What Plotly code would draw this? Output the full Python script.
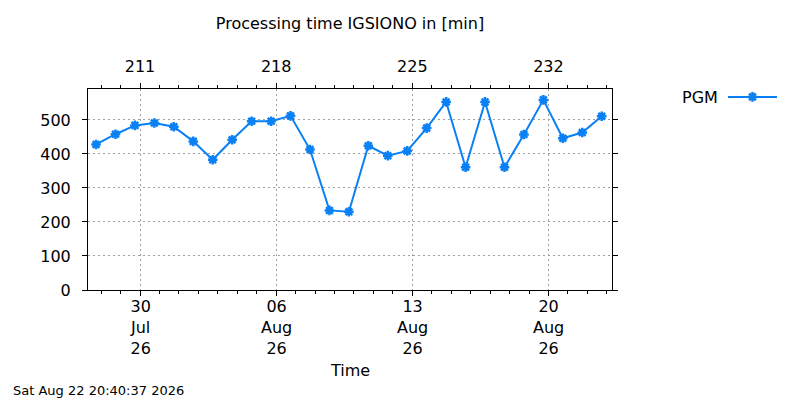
import plotly.graph_objects as go

# ---- data ----
dates = [
    "2026-07-27 17:45", "2026-07-28 17:45", "2026-07-29 17:45", "2026-07-30 17:45",
    "2026-07-31 17:45", "2026-08-01 17:45", "2026-08-02 17:45", "2026-08-03 17:45",
    "2026-08-04 17:45", "2026-08-05 17:45", "2026-08-06 17:45", "2026-08-07 17:45",
    "2026-08-08 17:45", "2026-08-09 17:45", "2026-08-10 17:45", "2026-08-11 17:45",
    "2026-08-12 17:45", "2026-08-13 17:45", "2026-08-14 17:45", "2026-08-15 17:45",
    "2026-08-16 17:45", "2026-08-17 17:45", "2026-08-18 17:45", "2026-08-19 17:45",
    "2026-08-20 17:45", "2026-08-21 17:45", "2026-08-22 17:45",
]
pgm_minutes = [428, 458, 484, 491, 480, 437, 383, 442, 496, 496, 512, 413, 234, 230,
               424, 395, 409, 476, 553, 361, 553, 361, 457, 559, 446, 463, 511]

bottom_tick_dates = ["2026-07-30", "2026-08-06", "2026-08-13", "2026-08-20"]
bottom_tick_day = ["30", "06", "13", "20"]
bottom_tick_mon = ["Jul", "Aug", "Aug", "Aug"]
bottom_tick_yr = ["26", "26", "26", "26"]
top_tick_doy = ["211", "218", "225", "232"]
y_ticks = [0, 100, 200, 300, 400, 500]

x_range = ["2026-07-27 07:50", "2026-08-23 06:25"]
y_range = [0, 591]

title_text = "Processing time IGSIONO in [min]"
series_name = "PGM"
x_title = "Time"
timestamp = "Sat Aug 22 20:40:37 2026"

# ---- style ----
FONT = "DejaVu Sans"
BLUE = "#0a80f5"
GRID = "#a0a0a0"
W, H = 800, 400
ML, MR, MT, MB = 88, 188, 89, 110
PW, PH = W - ML - MR, H - MT - MB

def px_to_paper_x(px):
    return (px - ML) / PW

def px_to_paper_y(py):
    return (H - MB - py) / PH

marker = dict(symbol="asterisk-open", size=8, color=BLUE, line=dict(color=BLUE, width=2.5))

fig = go.Figure()
fig.add_trace(go.Scatter(
    x=dates, y=pgm_minutes, mode="lines+markers", name=series_name,
    line=dict(color=BLUE, width=2), marker=marker, showlegend=False,
    xaxis="x", yaxis="y",
))
# invisible twin on the top (day-of-year) axis so it is laid out
fig.add_trace(go.Scatter(
    x=dates, y=pgm_minutes, mode="lines", line=dict(color="rgba(0,0,0,0)"),
    hoverinfo="skip", showlegend=False, xaxis="x2", yaxis="y",
))
# legend-only entry (marker); text and line drawn to its left/right
fig.add_trace(go.Scatter(
    x=[None], y=[None], mode="markers", name=" ", marker=marker,
    showlegend=True, xaxis="x", yaxis="y",
))

annotations = []
for d, a, b, c in zip(bottom_tick_dates, bottom_tick_day, bottom_tick_mon, bottom_tick_yr):
    annotations.append(dict(
        x=d, xref="x", y=0, yref="paper", yshift=-37,
        text="<br>".join((a, b, c)),
        showarrow=False, xanchor="center", yanchor="middle",
        font=dict(family=FONT, size=16, color="black"),
    ))
annotations.append(dict(
    x=0.5, xref="paper", y=0, yref="paper", yshift=-80.5, text=x_title,
    showarrow=False, xanchor="center", yanchor="middle",
    font=dict(family=FONT, size=16, color="black"),
))
annotations.append(dict(
    x=px_to_paper_x(11), xref="paper", y=0, yref="paper", yshift=-100,
    text=timestamp, showarrow=False, xanchor="left", yanchor="middle",
    font=dict(family=FONT, size=13, color="black"),
))
annotations.append(dict(
    x=px_to_paper_x(720), xref="paper", y=px_to_paper_y(97), yref="paper",
    text=series_name, showarrow=False, xanchor="right", yanchor="middle",
    font=dict(family=FONT, size=16, color="black"),
))

fig.update_layout(
    width=W, height=H,
    margin=dict(l=ML, r=MR, t=MT, b=MB, pad=0),
    paper_bgcolor="white", plot_bgcolor="white",
    font=dict(family=FONT, size=16, color="black"),
    title=dict(text=title_text, x=0.5, xref="paper", xanchor="center",
               y=1 - 23 / H, yref="container", yanchor="middle",
               font=dict(family=FONT, size=16, color="black")),
    xaxis=dict(
        type="date", range=x_range, tickvals=bottom_tick_dates, showticklabels=False,
        ticks="outside", ticklen=5, tickwidth=1, tickcolor="black",
        showline=True, linecolor="black", linewidth=1, mirror=False,
        showgrid=True, gridcolor=GRID, griddash="2px,3px", gridwidth=1,
        zeroline=False,
        minor=dict(ticks="outside", ticklen=3, tickcolor="black", dtick=86400000,
                   tick0="2026-07-30", showgrid=False),
    ),
    xaxis2=dict(
        type="date", range=x_range, overlaying="x", side="top", anchor="y",
        tickvals=bottom_tick_dates, ticktext=top_tick_doy,
        ticks="outside", ticklen=5, tickwidth=1, tickcolor="black",
        showline=True, linecolor="black", linewidth=1,
        showgrid=False, zeroline=False, ticklabelstandoff=5,
        tickfont=dict(family=FONT, size=16, color="black"),
        minor=dict(ticks="outside", ticklen=3, tickcolor="black", dtick=86400000,
                   tick0="2026-07-30", showgrid=False),
    ),
    yaxis=dict(
        range=y_range, tickvals=y_ticks,
        ticks="outside", ticklen=5, tickwidth=1, tickcolor="black",
        showline=True, linecolor="black", linewidth=1, mirror="ticks",
        showgrid=True, gridcolor=GRID, griddash="2px,3px", gridwidth=1,
        zeroline=False, ticklabelstandoff=8,
        tickfont=dict(family=FONT, size=16, color="black"),
    ),
    legend=dict(x=px_to_paper_x(732.5), y=px_to_paper_y(97), xanchor="left",
                yanchor="middle", bgcolor="rgba(0,0,0,0)", borderwidth=0,
                font=dict(family=FONT, size=16, color="black")),
    shapes=[dict(type="line", xref="paper", yref="paper",
                 x0=px_to_paper_x(728), x1=px_to_paper_x(777),
                 y0=px_to_paper_y(97), y1=px_to_paper_y(97),
                 line=dict(color=BLUE, width=2))],
    annotations=annotations,
    showlegend=True,
)

fig.write_html("out.html",
               config={"displayModeBar": False},
               post_script="document.body.style.margin='0px';document.body.style.overflow='hidden';")
